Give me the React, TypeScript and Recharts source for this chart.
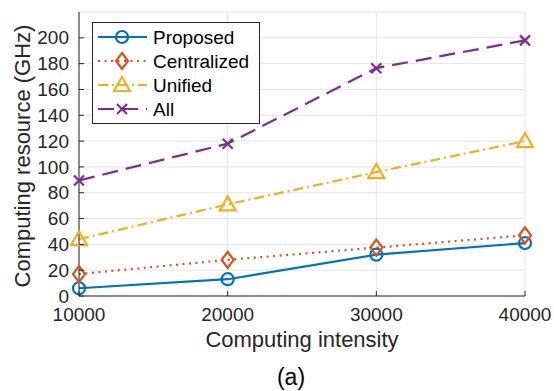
import React from "react";
import { LineChart, Line, XAxis, YAxis, CartesianGrid, Legend, Label } from "recharts";

const FONT = '"Liberation Sans", Arial, Helvetica, sans-serif';
const AXIS = "#262626";
const GRID = "#e5e5e5";

// computing intensity on the x axis
const INTENSITY = [10000, 20000, 30000, 40000];
// computing resource (GHz) per scheme
const PROPOSED = [6, 13, 32, 41];
const CENTRALIZED = [17, 28, 37.5, 47];
const UNIFIED = [44, 71, 96, 120];
const ALL = [89.5, 118, 176.5, 198];

const X_TICKS = [10000, 20000, 30000, 40000];
const Y_TICKS = [0, 20, 40, 60, 80, 100, 120, 140, 160, 180, 200];

const SERIES = [
  { key: "proposed", name: "Proposed", color: "#0072BD", dash: undefined, marker: "circle" },
  { key: "centralized", name: "Centralized", color: "#D95319", dash: "2 4.5", marker: "diamond" },
  { key: "unified", name: "Unified", color: "#EDB120", dash: "10 4 2 4", marker: "triangle" },
  { key: "all", name: "All", color: "#7E2F8E", dash: "16 8", marker: "cross" },
];

const data = INTENSITY.map((x, i) => ({
  x,
  proposed: PROPOSED[i],
  centralized: CENTRALIZED[i],
  unified: UNIFIED[i],
  all: ALL[i],
}));

function Marker({ type, cx, cy, color }: { type: string; cx: number; cy: number; color: string }) {
  const s = { fill: "none", stroke: color, strokeWidth: 2.2 };
  if (type === "circle") return <circle cx={cx} cy={cy} r={6} {...s} />;
  if (type === "diamond")
    return <path d={`M${cx},${cy - 8}L${cx + 6},${cy}L${cx},${cy + 8}L${cx - 6},${cy}Z`} {...s} />;
  if (type === "triangle")
    return <path d={`M${cx},${cy - 8}L${cx + 8},${cy + 6}L${cx - 8},${cy + 6}Z`} {...s} />;
  return (
    <path
      d={`M${cx - 5},${cy - 5}L${cx + 5},${cy + 5}M${cx - 5},${cy + 5}L${cx + 5},${cy - 5}`}
      {...s}
    />
  );
}

const TICK_LEN = 5;
const X_GAP = 12;
const Y_GAP = 10;

function XTick(props: any) {
  const { x, y, payload } = props;
  const axisY = y - X_GAP;
  return (
    <g>
      <line x1={x} x2={x} y1={axisY} y2={axisY - TICK_LEN} stroke={AXIS} />
      <text x={x} y={y} dy="0.71em" textAnchor="middle" fill={AXIS} fontSize={19} fontFamily={FONT}>
        {payload.value}
      </text>
    </g>
  );
}

function TopTick(props: any) {
  const { x, y } = props;
  return <line x1={x} x2={x} y1={y} y2={y + TICK_LEN} stroke={AXIS} />;
}

function YTick(props: any) {
  const { x, y, payload } = props;
  const axisX = x + Y_GAP;
  return (
    <g>
      <line x1={axisX} x2={axisX + TICK_LEN} y1={y} y2={y} stroke={AXIS} />
      <text x={x} y={y} dy="0.35em" textAnchor="end" fill={AXIS} fontSize={19} fontFamily={FONT}>
        {payload.value}
      </text>
    </g>
  );
}

function RightTick(props: any) {
  const { x, y } = props;
  return <line x1={x} x2={x - TICK_LEN} y1={y} y2={y} stroke={AXIS} />;
}

function LegendBox() {
  const rowH = 24;
  return (
    <svg width={168} height={102} style={{ display: "block" }}>
      <rect x={0.5} y={0.5} width={167} height={101} fill="#fff" stroke={AXIS} strokeWidth={1} />
      {SERIES.map((s, i) => {
        const cy = 15 + i * rowH;
        return (
          <g key={s.key}>
            <line x1={6} x2={55} y1={cy} y2={cy} stroke={s.color} strokeWidth={2.2} strokeDasharray={s.dash} />
            <Marker type={s.marker} cx={30} cy={cy} color={s.color} />
            <text x={61} y={cy} dy="0.35em" fontSize={19} fontFamily={FONT} fill="#000">
              {s.name}
            </text>
          </g>
        );
      })}
    </svg>
  );
}

export default function App() {
  return (
    <div style={{ position: "absolute", left: 0, top: 0, width: 554, height: 391, background: "#fff" }}>
      <LineChart width={554} height={391} data={data} margin={{ top: 12, right: 29, bottom: 0, left: 0 }}>
        <CartesianGrid stroke={GRID} strokeWidth={1} />
        <XAxis
          dataKey="x"
          type="number"
          domain={[10000, 40000]}
          ticks={X_TICKS}
          height={95}
          tickSize={0}
          tickMargin={X_GAP}
          tick={<XTick />}
          axisLine={{ stroke: AXIS }}
          tickLine={false}
        >
          <Label
            content={({ viewBox }: any) => (
              <g fontFamily={FONT}>
                <text x={viewBox.x + viewBox.width / 2} y={viewBox.y + 51} textAnchor="middle" fontSize={22} fill={AXIS}>
                  Computing intensity
                </text>
                <text x={viewBox.x + viewBox.width / 2 - 11} y={viewBox.y + 89} textAnchor="middle" fontSize={23} fill="#000">
                  (a)
                </text>
              </g>
            )}
          />
        </XAxis>
        <XAxis
          xAxisId="top"
          orientation="top"
          dataKey="x"
          type="number"
          domain={[10000, 40000]}
          ticks={X_TICKS}
          height={0}
          tickSize={0}
          tick={<TopTick />}
          axisLine={{ stroke: AXIS }}
          tickLine={false}
        />
        <YAxis
          type="number"
          domain={[0, 220]}
          ticks={Y_TICKS}
          width={79}
          tickSize={0}
          tickMargin={Y_GAP}
          tick={<YTick />}
          axisLine={{ stroke: AXIS }}
          tickLine={false}
        >
          <Label
            content={({ viewBox }: any) => {
              const cx = 22;
              const cy = viewBox.y + viewBox.height / 2 + 2;
              return (
                <text
                  x={cx}
                  y={cy}
                  dy="0.35em"
                  textAnchor="middle"
                  transform={`rotate(-90 ${cx} ${cy})`}
                  fontSize={22}
                  fontFamily={FONT}
                  fill={AXIS}
                >
                  Computing resource (GHz)
                </text>
              );
            }}
          />
        </YAxis>
        <YAxis
          yAxisId="right"
          orientation="right"
          type="number"
          domain={[0, 220]}
          ticks={Y_TICKS}
          width={0}
          tickSize={0}
          tick={<RightTick />}
          axisLine={{ stroke: AXIS }}
          tickLine={false}
        />
        {SERIES.map((s) => (
          <Line
            key={s.key}
            dataKey={s.key}
            name={s.name}
            type="linear"
            stroke={s.color}
            strokeWidth={2.2}
            strokeDasharray={s.dash}
            isAnimationActive={false}
            dot={(p: any) => <Marker key={`${s.key}-${p.index}`} type={s.marker} cx={p.cx} cy={p.cy} color={s.color} />}
            activeDot={false}
          />
        ))}
        <Legend
          layout="vertical"
          align="center"
          verticalAlign="middle"
          content={() => <LegendBox />}
          wrapperStyle={{ left: 92, top: 22, width: 168, height: 102 }}
        />
      </LineChart>
    </div>
  );
}
